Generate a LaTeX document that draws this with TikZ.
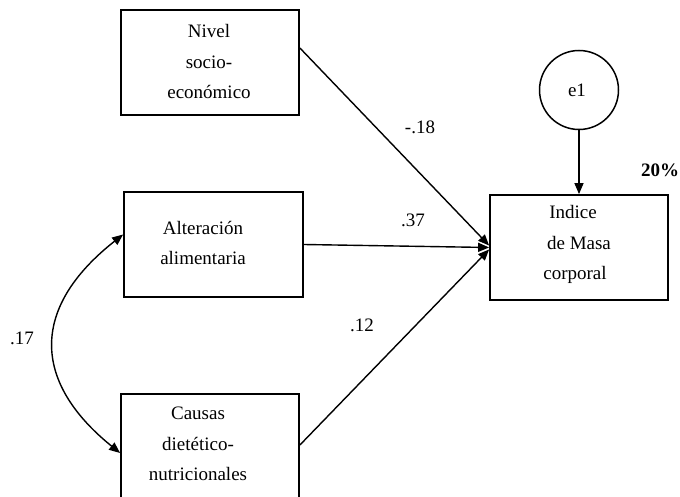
\documentclass[tikz,border=0pt]{standalone}
\usepackage{fontspec}
\setmainfont{Liberation Serif}
\usetikzlibrary{arrows.meta}
\begin{document}
\begin{tikzpicture}[x=1pt,y=-1pt,
  box/.style={draw, line width=1.8pt, rectangle, inner sep=0pt, minimum width=178pt, minimum height=105pt},
  lbl/.style={font=\fontsize{19}{30.5}\selectfont, align=center, inner sep=0pt},
  num/.style={font=\fontsize{19}{22}\selectfont, inner sep=0pt},
  tip/.style={Triangle[length=11pt,width=9pt]},
  conn/.style={line width=1.4pt, -{Triangle[length=11pt,width=9pt]}},
  dconn/.style={line width=1.4pt, {Triangle[length=11pt,width=9pt]}-{Triangle[length=11pt,width=9pt]}}
  ]
\useasboundingbox (0,0) rectangle (680,497);
% boxes
\node[box] (niv) at (210,62.5) {};
\node[box, minimum width=179pt] (alt) at (213.5,244.5) {};
\node[box] (cau) at (210,446.5) {};
\node[box] (imc) at (579,247.5) {};
\node[draw, circle, line width=1.5pt, minimum size=79pt, inner sep=0pt] (e1) at (579,90) {};
% texts
\node[lbl] (nivt) at (209,62) {Nivel\\socio-\\económico};
\node[lbl] (altt) at (203,243) {Alteración\\alimentaria};
\node[lbl] (caut) at (198,444) {Causas\\dietético-\\nutricionales};
\node[lbl] (imct) at (575,244.5) {Indice\hspace*{4pt}\\\hspace*{8pt}de Masa\\corporal};
\node[lbl] (e1t) at (577,90) {e1};
% connectors
\draw[conn] ([yshift=14.5pt]niv.east) -- ([yshift=2pt]imc.west);
\draw[conn] (alt.east) -- (imc.west);
\draw[conn] ([yshift=1.5pt]cau.east) -- ([yshift=-2pt]imc.west);
\draw[conn] (e1.south) -- (imc.north);
\draw[dconn] ([yshift=10pt]alt.west) .. controls (31,307) and (31,381) .. ([yshift=-6.5pt]cau.west);
% coefficients
\node[num] (c1) at (420,127) {-.18};
\node[num] (c2) at (413,220) {.37};
\node[num] (c3) at (362,325) {.12};
\node[num] (c4) at (22,338) {.17};
\node[num, anchor=west, font=\fontsize{19}{22}\selectfont\bfseries] (r2) at (641,170) {20\%};
\end{tikzpicture}
\end{document}
